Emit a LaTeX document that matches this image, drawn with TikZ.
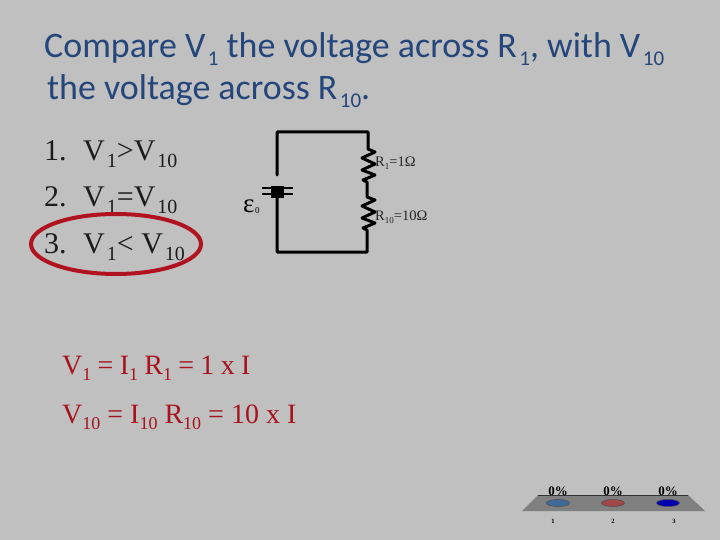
\documentclass[tikz,border=0pt]{standalone}
\usepackage{fontspec}
\setmainfont{Liberation Serif}
\newfontfamily\titlefont{Carlito}
\usetikzlibrary{shapes.geometric}
\definecolor{bgc}{HTML}{C0C0C0}
\definecolor{ringc}{HTML}{B0121F}
\definecolor{titlec}{HTML}{24467A}
\definecolor{eqc}{HTML}{A5141E}
\definecolor{listc}{HTML}{1C1C1C}
\definecolor{markone}{HTML}{3F6A9A}
\definecolor{marktwo}{HTML}{A04848}
\definecolor{markthree}{HTML}{0000B0}
\newcommand{\dropped}[3]{\raisebox{-#2pt}{\fontsize{#1}{#1}\selectfont #3}}
\newcommand{\tsb}[1]{\hspace{2.5pt}\dropped{21}{8}{#1}}
\newcommand{\lsb}[1]{\hspace{2pt}\dropped{20}{7}{#1}}
\newcommand{\esb}[1]{\dropped{18}{6}{#1}}
\newcommand{\csb}[1]{\dropped{9}{3}{#1}}
\tikzset{
 x=1pt,y=-1pt,
 titletext/.style={anchor=base west,inner sep=0,font=\titlefont\fontsize{35.9}{35.9}\selectfont,text=titlec},
 listtext/.style={anchor=base west,inner sep=0,font=\fontsize{30}{30}\selectfont,text=listc},
 eqtext/.style={anchor=base west,inner sep=0,font=\fontsize{28}{28}\selectfont,text=eqc},
 smalltext/.style={anchor=base west,inner sep=0,font=\fontsize{14.5}{14.5}\selectfont,text=black!85},
 wire/.style={line width=3pt,line cap=round,line join=round},
 pcttext/.style={anchor=center,inner sep=0,font=\bfseries\fontsize{13}{13}\selectfont},
 numtext/.style={anchor=center,inner sep=0,font=\bfseries\fontsize{6.5}{6.5}\selectfont},
 pollmark/.style={ellipse,draw=black!70,line width=0.5pt,minimum width=23pt,minimum height=7pt,inner sep=0},
}
\begin{document}
\begin{tikzpicture}
\path[use as bounding box,fill=bgc] (0,0) rectangle (720,540);
\node[titletext] (t1) at (44,58) {Compare V\tsb{1} the voltage across R\tsb{1}, with V\tsb{10}};
\node[titletext] (t2) at (47,100) {the voltage across R\tsb{10}.};
\node[listtext] (n1) at (44,161) {1.};
\node[listtext] (n2) at (44,207) {2.};
\node[listtext] (n3) at (44,253) {3.};
\node[listtext] (l1) at (83,161) {V\lsb{1}>V\lsb{10}};
\node[listtext] (l2) at (83,207) {V\lsb{1}=V\lsb{10}};
\node[listtext] (l3) at (83,253) {V\lsb{1}< V\lsb{10}};
\node[draw=ringc,line width=4pt,ellipse,minimum width=170pt,minimum height=60pt,inner sep=0] (ring) at (116,244) {};
\node[eqtext] (e1) at (62,374) {\spaceskip=6.3pt V\esb{1} = I\esb{1} R\esb{1} = 1 x I};
\node[eqtext] (e2) at (62,423) {V\esb{10} = I\esb{10} R\esb{10} = 10 x I};
% circuit
\coordinate (tl) at (277,132);
\coordinate (tr) at (368,132);
\coordinate (bl) at (277,252);
\coordinate (br) at (367,252);
\coordinate (bt) at (277,175);
\coordinate (bb) at (277,197);
\coordinate (p1l) at (262,188);\coordinate (p1r) at (293,188);
\coordinate (p2l) at (262,194);\coordinate (p2r) at (293,194);
\draw[wire] (bt) -- (tl) -- (tr) -- (368,149) -- (375,152) -- (362,158) -- (375,164) -- (362,170) -- (375,175) -- (363,180) -- (367,182)
 -- (367,197) -- (375,200) -- (362,206) -- (375,212) -- (362,218) -- (375,223) -- (363,228) -- (367,230) -- (br) -- (bl) -- (bb);
\draw[line width=2.5pt] (p1l) -- (p1r);
\draw[line width=2.5pt] (p2l) -- (p2r);
\fill (271,186) rectangle (284,198);
\node[inner sep=0,anchor=base west,font=\fontsize{27}{27}\selectfont] (emf) at (243,212) {ε};
\node[inner sep=0,anchor=base west,font=\fontsize{9}{9}\selectfont] (emf0) at (255,214) {0};
\node[smalltext] (r1) at (375,167) {R\csb{1}=1Ω};
\node[smalltext] (r10) at (375,221) {R\csb{10}=10Ω};
% poll
\fill[black!50] (538,495) -- (688,495) -- (705,511) -- (522,511) -- cycle;
\draw[line width=0.7pt,black!80] (538,495) -- (688,495);
\node[pollmark,fill=markone] (m1) at (558,503) {};
\node[pollmark,fill=marktwo] (m2) at (613,503) {};
\node[pollmark,fill=markthree] (m3) at (668,503) {};
\node[pcttext] (p1) at (558,491) {0\%};
\node[pcttext] (p2) at (613,491) {0\%};
\node[pcttext] (p3) at (668,491) {0\%};
\node[numtext] (k1) at (553,521) {1};
\node[numtext] (k2) at (613,521) {2};
\node[numtext] (k3) at (674,521) {3};
\end{tikzpicture}
\end{document}
